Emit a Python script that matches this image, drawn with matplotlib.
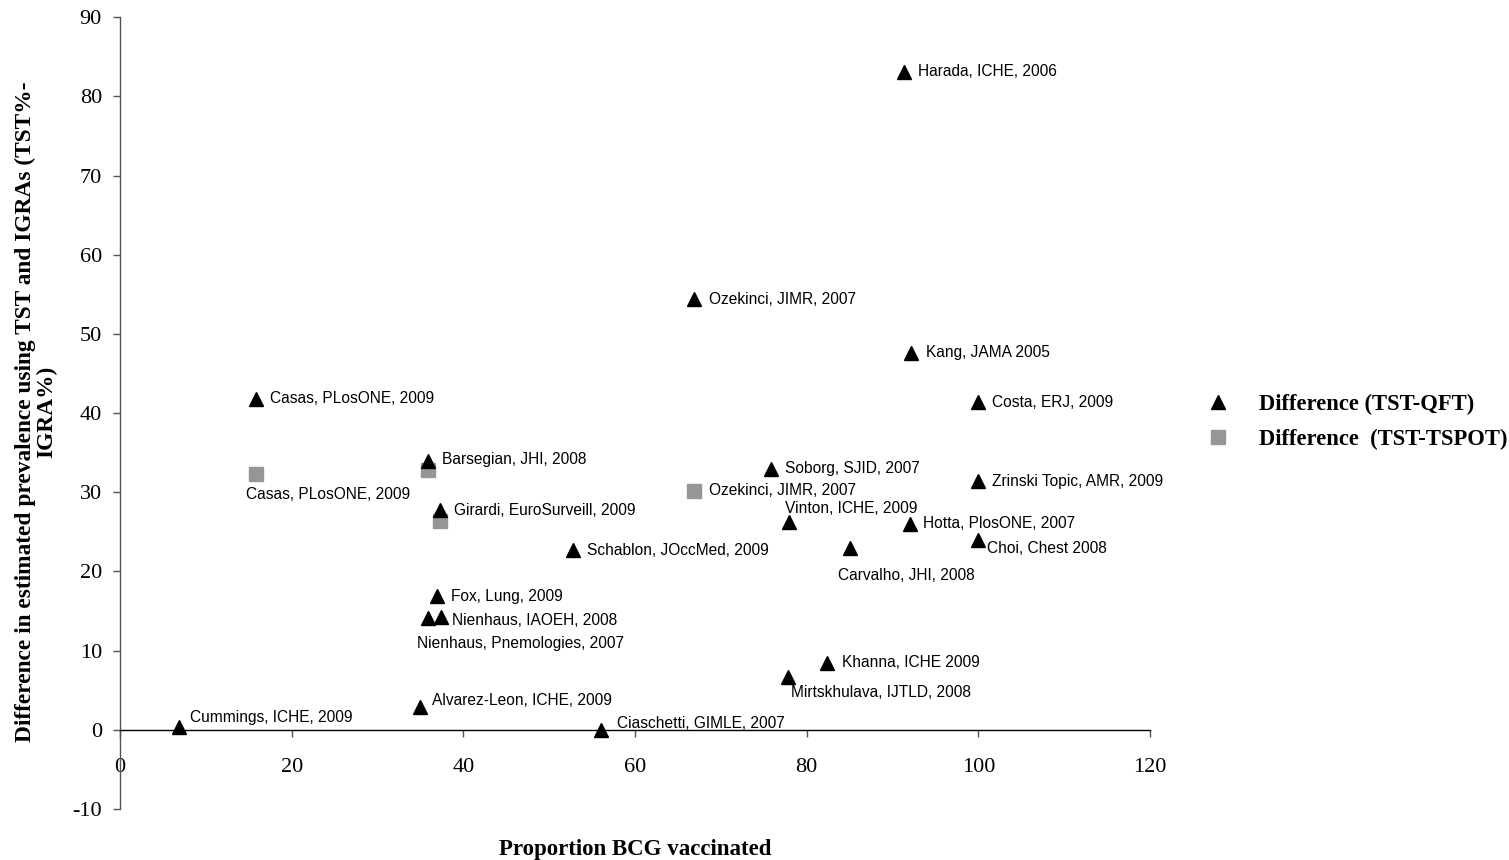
import matplotlib.pyplot as plt

plt.rcParams["axes.unicode_minus"] = False

# Difference (TST-QFT)
qft_labels = ["Harada, ICHE, 2006", "Ozekinci, JIMR, 2007", "Kang, JAMA 2005",
              "Costa, ERJ, 2009", "Casas, PLosONE, 2009", "Barsegian, JHI, 2008",
              "Soborg, SJID, 2007", "Zrinski Topic, AMR, 2009",
              "Girardi, EuroSurveill, 2009", "Vinton, ICHE, 2009",
              "Hotta, PlosONE, 2007", "Choi, Chest 2008", "Carvalho, JHI, 2008",
              "Schablon, JOccMed, 2009", "Fox, Lung, 2009",
              "Nienhaus, Pnemologies, 2007", "Nienhaus, IAOEH, 2008",
              "Khanna, ICHE 2009", "Mirtskhulava, IJTLD, 2008",
              "Alvarez-Leon, ICHE, 2009", "Cummings, ICHE, 2009",
              "Ciaschetti, GIMLE, 2007"]
qft_x = [91.3, 66.9, 92.2, 100, 15.9, 35.9, 75.9, 100, 37.3, 78.0, 92.0, 100,
         85.1, 52.8, 36.9, 35.9, 37.4, 82.4, 77.8, 34.9, 6.9, 56.0]
qft_y = [83.1, 54.4, 47.6, 41.4, 41.8, 34.0, 33.0, 31.4, 27.7, 26.3, 26.0, 24.0,
         23.0, 22.7, 16.9, 14.1, 14.3, 8.5, 6.7, 2.9, 0.4, 0.0]

# Difference (TST-TSPOT)
tspot_labels = ["Casas, PLosONE, 2009", "", "", "Ozekinci, JIMR, 2007"]
tspot_x = [15.9, 35.9, 37.3, 66.9]
tspot_y = [32.3, 32.8, 26.4, 30.2]

# label offsets in pixels (dx, dy) from the marker
qft_off = [(14, 0), (15, 0), (15, 0), (14, 0), (14, 0), (14, 1), (14, 0), (14, 0),
           (14, 0), (-4, 13), (13, 0), (9, -9), (-12, -28), (14, 0), (14, 0),
           (-11, -25), (11, -4), (15, 0), (3, -16), (12, 6), (11, 9), (16, 6)]
tspot_off = [(-10, -20), (0, 0), (0, 0), (15, 0)]

serif = "Liberation Serif"
sans = "Liberation Sans"

fig = plt.figure(figsize=(15.09, 8.60), dpi=100)
ax = fig.add_axes([0.0795, 0.0593, 0.6826, 0.9207])

l1, = ax.plot(qft_x, qft_y, ls="none", marker="^", ms=10, color="black",
              label="Difference (TST-QFT)", zorder=3)
l2, = ax.plot(tspot_x, tspot_y, ls="none", marker="s", ms=9.5, color="#969696",
              label="Difference  (TST-TSPOT)", zorder=2)

px = 0.72
for x, y, t, (dx, dy) in zip(qft_x, qft_y, qft_labels, qft_off):
    ax.annotate(t, (x, y), xytext=(dx * px, dy * px), textcoords="offset points",
                ha="left", va="center", fontsize=11.2, family=sans)
for x, y, t, (dx, dy) in zip(tspot_x, tspot_y, tspot_labels, tspot_off):
    if t:
        ax.annotate(t, (x, y), xytext=(dx * px, dy * px), textcoords="offset points",
                    ha="left", va="center", fontsize=11.2, family=sans)

ax.set_xlim(0, 120)
ax.set_ylim(-10, 90)
ax.set_xticks(range(0, 121, 20))
ax.set_yticks(range(-10, 91, 10))
ax.spines["top"].set_visible(False)
ax.spines["right"].set_visible(False)
ax.spines["bottom"].set_position(("data", 0))
ax.spines["left"].set_color("#555555")
ax.spines["left"].set_linewidth(1.0)
ax.spines["bottom"].set_color("black")
ax.spines["bottom"].set_linewidth(1.0)
ax.tick_params(axis="y", direction="out", length=5, width=1, color="#555555",
               labelsize=16, pad=8)
ax.tick_params(axis="x", direction="out", length=5, width=1, color="#555555",
               labelsize=16, pad=15)
for lab in ax.get_xticklabels() + ax.get_yticklabels():
    lab.set_family(serif)

fig.text(635 / 1509, 1 - 850 / 860, "Proportion BCG vaccinated", ha="center",
         va="center", fontsize=16.5, fontweight="bold", family=serif)
fig.text(36 / 1509, 1 - 412 / 860,
         "Difference in estimated prevalence using TST and IGRAs (TST%-\nIGRA%)",
         ha="center", va="center", rotation=90, multialignment="center",
         fontsize=16.8, fontweight="bold", family=serif, linespacing=1.05)

fig.legend(handles=[l1, l2], loc="center left", bbox_to_anchor=(1207 / 1509, 1 - 422 / 860),
           frameon=False, prop={"family": serif, "weight": "bold", "size": 16.3},
           handlelength=1.0, handletextpad=1.3, labelspacing=0.6,
           borderpad=0, borderaxespad=0)

fig.savefig("out.png", dpi=100)
